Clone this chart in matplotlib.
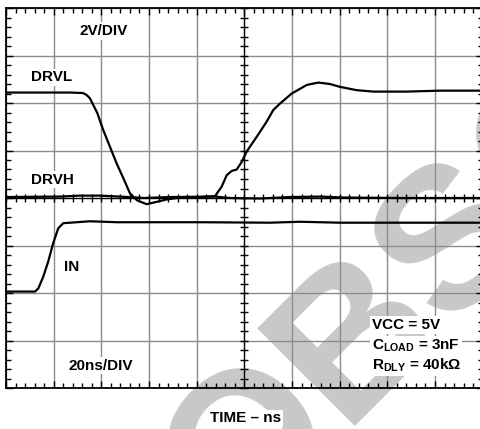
"""Gate driver switching waveforms (DRVL / DRVH / IN), oscilloscope-style."""

import matplotlib
matplotlib.use("Agg")
import matplotlib.pyplot as plt
from matplotlib.ticker import MultipleLocator, NullFormatter

plt.rcParams["font.family"] = ["Liberation Sans", "DejaVu Sans"]
plt.rcParams["font.weight"] = "bold"
plt.rcParams["mathtext.fontset"] = "custom"
plt.rcParams["mathtext.rm"] = "Liberation Sans:bold"
plt.rcParams["mathtext.bf"] = "Liberation Sans:bold"
plt.rcParams["mathtext.it"] = "Liberation Sans:bold"

# ------------------------------------------------------------
# data: time in ns (20 ns/div), level in screen divisions (2 V/div)
# ------------------------------------------------------------
drvl_t = [0, 26.9, 32.3, 33.8, 35.2, 38.3, 40.8, 43.6, 46.4, 49.2, 52.0,
          55.0, 59.0, 63.3, 67.5, 73.0, 81.4, 87.7, 90.5, 92.6, 94.7, 96.8,
          98.9, 101.0, 105.2, 109.4, 112.1, 115.0, 119.9, 126.2, 131.0,
          135.9, 140.1, 147.1, 154.1, 168.1, 182.1, 200.0]
drvl_v = [6.22, 6.22, 6.21, 6.17, 6.10, 5.79, 5.43, 5.08, 4.73, 4.42, 4.10,
          3.95, 3.87, 3.92, 3.97, 4.01, 4.02, 4.04, 4.24, 4.48, 4.57, 4.60,
          4.76, 4.98, 5.29, 5.61, 5.85, 5.99, 6.20, 6.38, 6.43,
          6.40, 6.34, 6.27, 6.24, 6.24, 6.26, 6.26]

drvh_t = [0, 22.7, 31.0, 39.4, 47.8, 58.3, 68.8, 87.7, 94.0, 106.6, 119.2,
          131.7, 142.2, 165.3, 200.0]
drvh_v = [4.02, 4.03, 4.05, 4.05, 4.03, 4.00, 4.02, 4.03, 4.00, 3.99, 4.02,
          4.03, 4.01, 4.00, 4.00]

in_t = [0, 12.2, 13.6, 15.6, 17.7, 19.8, 21.9, 24.0, 29.7, 35.2, 46.4,
        81.4, 110.8, 123.3, 140.1, 200.0]
in_v = [2.03, 2.03, 2.10, 2.34, 2.66, 3.05, 3.36, 3.47, 3.49, 3.51, 3.49,
        3.49, 3.48, 3.50, 3.48, 3.48]

conditions = [r"VCC = 5V", r"C$_{\mathrm{LOAD}}$ = 3nF", r"R$_{\mathrm{DLY}}$ = 40kΩ"]

# ------------------------------------------------------------
fig = plt.figure(figsize=(4.8, 4.29), dpi=100)
W, H = 480, 429
pos = [6 / W, (H - 388) / H, 476.7 / W, 380 / H]

# watermark behind everything
fig.text(625 / W, 1 - 148 / H, "OBSOLETE", fontsize=145, fontweight="bold",
         color="#c8c8c8", rotation=45, rotation_mode="anchor",
         ha="center", va="baseline", zorder=-5)

ax = fig.add_axes(pos, facecolor="none")
ax.set_xlim(0, 200)
ax.set_ylim(0, 8)
ax.xaxis.set_major_locator(MultipleLocator(20))
ax.yaxis.set_major_locator(MultipleLocator(1))
ax.xaxis.set_minor_locator(MultipleLocator(4))
ax.yaxis.set_minor_locator(MultipleLocator(0.2))
ax.xaxis.set_major_formatter(NullFormatter())
ax.yaxis.set_major_formatter(NullFormatter())
ax.tick_params(which="both", direction="in", top=True, right=True,
               color="black", width=1.0)
ax.tick_params(which="major", length=5)
ax.tick_params(which="minor", length=3.5)
ax.grid(True, which="major", color="#8c8c8c", linewidth=1.0)
ax.set_axisbelow(True)
for sp in ax.spines.values():
    sp.set_linewidth(1.3)

# centre cross-hair with its own small ticks
ax2 = fig.add_axes(pos, facecolor="none")
ax2.set_xlim(0, 200)
ax2.set_ylim(0, 8)
ax2.spines["left"].set_position(("data", 100))
ax2.spines["bottom"].set_position(("data", 4))
ax2.spines["top"].set_visible(False)
ax2.spines["right"].set_visible(False)
for side in ("left", "bottom"):
    ax2.spines[side].set_linewidth(0.9)
ax2.xaxis.set_major_locator(MultipleLocator(20))
ax2.yaxis.set_major_locator(MultipleLocator(1))
ax2.xaxis.set_minor_locator(MultipleLocator(4))
ax2.yaxis.set_minor_locator(MultipleLocator(0.2))
ax2.xaxis.set_major_formatter(NullFormatter())
ax2.yaxis.set_major_formatter(NullFormatter())
ax2.tick_params(which="both", direction="inout", length=6, width=1.0,
                color="black")

# traces
trace = dict(color="black", linewidth=1.6, solid_joinstyle="round", zorder=4)
ax2.plot(drvh_t, drvh_v, **trace)
ax2.plot(in_t, in_v, **trace)
ax2.plot(drvl_t, drvl_v, **trace)

box = dict(facecolor="white", edgecolor="none", pad=1.2)
lbl = dict(fontsize=11, fontweight="bold", bbox=box, zorder=6)
ax2.text(40.9, 7.55, "2V/DIV", ha="center", va="center_baseline", **lbl)
ax2.text(10.5, 6.57, "DRVL", ha="left", va="center_baseline", **lbl)
ax2.text(10.5, 4.42, "DRVH", ha="left", va="center_baseline", **lbl)
ax2.text(24.3, 2.57, "IN", ha="left", va="center_baseline", **lbl)
ax2.text(26.4, 0.50, "20ns/DIV", ha="left", va="center_baseline", **lbl)

for i, s in enumerate(conditions):
    ax2.text(153.6, 1.24 - 0.425 * i, s, ha="left", va="baseline", **lbl)

fig.text(246 / W, 1 - 417 / H, "TIME – ns", ha="center", va="center_baseline",
         fontsize=11, fontweight="bold", bbox=box)

fig.savefig("out.png", dpi=100)
